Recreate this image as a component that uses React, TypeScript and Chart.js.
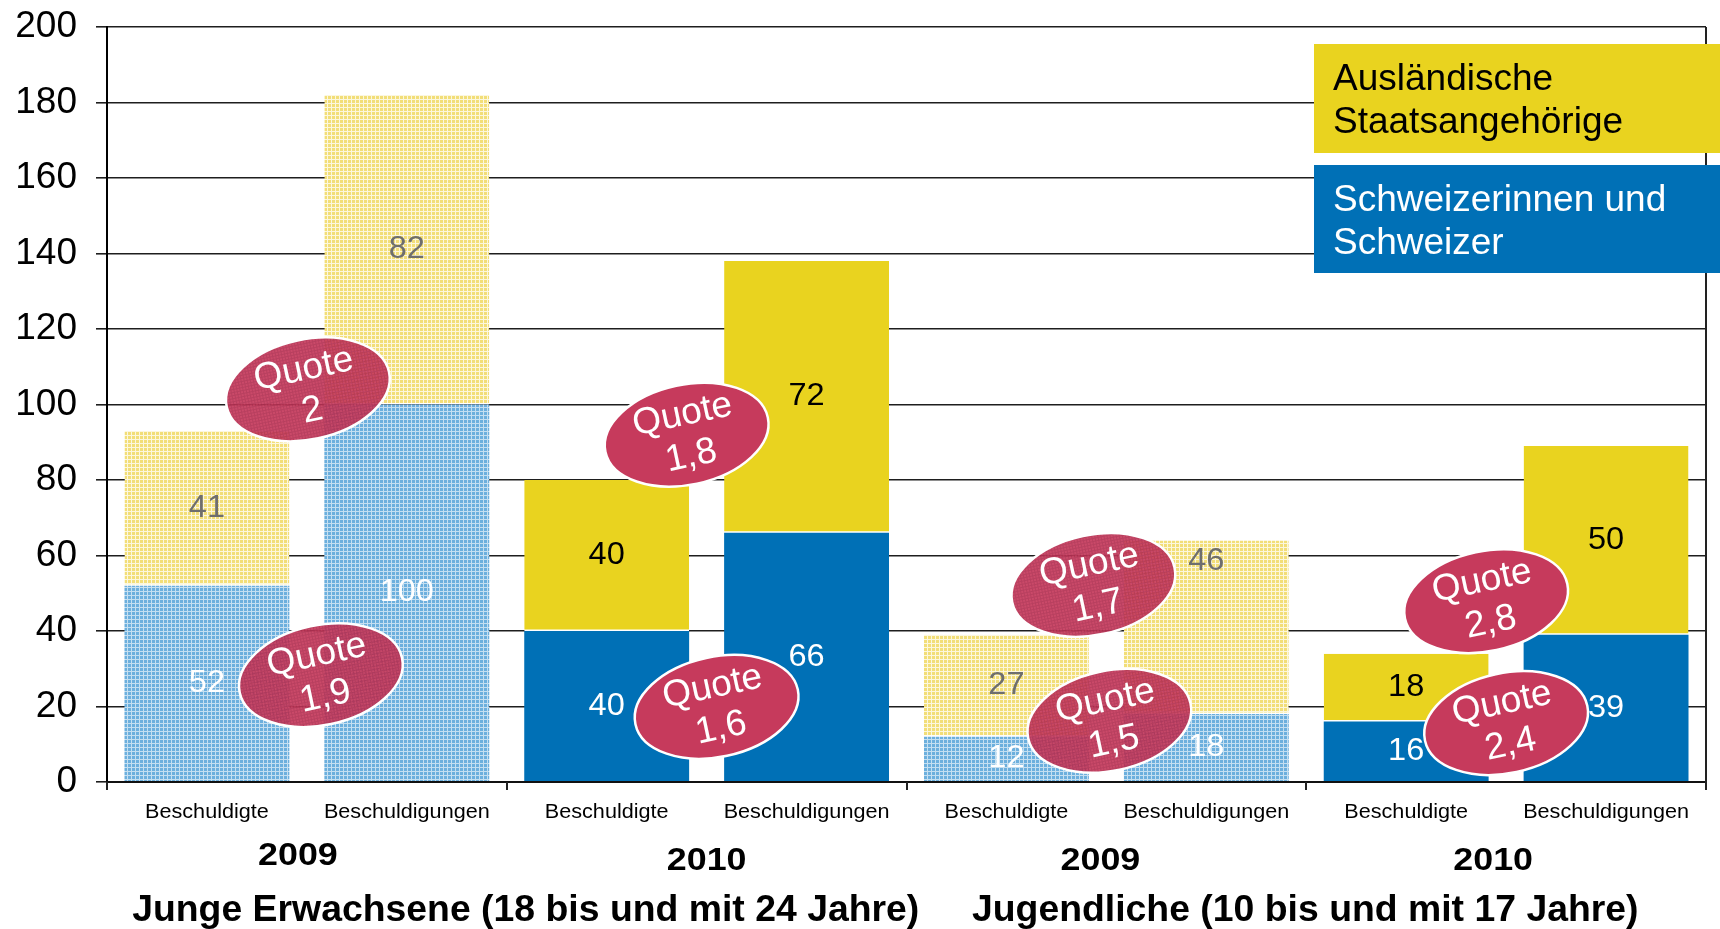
import React, { useEffect, useRef } from "react";
import { Chart, registerables } from "chart.js";

Chart.register(...registerables);

// ---------- data ----------
const categories = [
  "Beschuldigte", "Beschuldigungen",
  "Beschuldigte", "Beschuldigungen",
  "Beschuldigte", "Beschuldigungen",
  "Beschuldigte", "Beschuldigungen",
];
const years = ["2009", "2010", "2009", "2010"];
const ageGroups = [
  "Junge Erwachsene (18 bis und mit 24 Jahre)",
  "Jugendliche (10 bis und mit 17 Jahre)",
];
const swissValues = [52, 100, 40, 66, 12, 18, 16, 39];
const foreignValues = [41, 82, 40, 72, 27, 46, 18, 50];
const hatchedBars = [true, true, false, false, true, true, false, false];
const quoteValues = ["2", "1,9", "1,8", "1,6", "1,7", "1,5", "2,8", "2,4"];
const legendLines = [
  ["Ausländische", "Staatsangehörige"],
  ["Schweizerinnen und", "Schweizer"],
];
const yMin = 0;
const yMax = 200;
const yStep = 20;

// ---------- annotation anchors (data coordinates: category index, value) ----------
const quoteAnchorX = [0.505, 0.57, 2.4, 2.55, 4.435, 4.515, 6.4, 6.5];
const quoteAnchorY = [104, 28.3, 92, 19.9, 52.2, 16.2, 47.9, 15.6];
const quoteHatched = [true, true, false, false, true, true, false, false];
const yearAnchorX = [0.455, 2.5, 4.47, 6.435];
const ageGroupAnchorX = [1.595, 5.495];
const labelValueOverride: Record<string, number> = { "1-5": 58.3 };

const FONT = "'Liberation Sans', Arial, Helvetica, sans-serif";

const COLORS = {
  yellow: "#E9D31F",
  blue: "#0070B6",
  yellowHatchBase: "#F2DE78",
  blueHatchBase: "#6CAFDD",
  quote: "#C63A5C",
  quoteHatchLine: "#A32649",
  grid: "#1e1e1e",
};

function makeGridPattern(
  ctx: CanvasRenderingContext2D,
  base: string,
  line: string,
  lineAlpha: number,
  size = 4
) {
  const c = document.createElement("canvas");
  c.width = size;
  c.height = size;
  const g = c.getContext("2d")!;
  g.fillStyle = base;
  g.fillRect(0, 0, size, size);
  g.globalAlpha = lineAlpha;
  g.fillStyle = line;
  g.fillRect(0, size - 1, size, 1);
  g.fillRect(size - 1, 0, 1, size - 1);
  return ctx.createPattern(c, "repeat")!;
}

function drawScaledText(
  ctx: CanvasRenderingContext2D,
  text: string,
  x: number,
  y: number,
  font: string,
  color: string,
  sx = 1,
  baseline: CanvasTextBaseline = "alphabetic",
  align: CanvasTextAlign = "center"
) {
  ctx.save();
  ctx.translate(x, y);
  ctx.scale(sx, 1);
  ctx.font = font;
  ctx.fillStyle = color;
  ctx.textAlign = align;
  ctx.textBaseline = baseline;
  ctx.fillText(text, 0, 0);
  ctx.restore();
}

export default function App() {
  const canvasRef = useRef<HTMLCanvasElement | null>(null);

  useEffect(() => {
    document.body.style.margin = "0";
    const canvas = canvasRef.current!;
    const ctx = canvas.getContext("2d")!;

    const yellowHatch = makeGridPattern(ctx, COLORS.yellowHatchBase, "#ffffff", 0.75);
    const blueHatch = makeGridPattern(ctx, COLORS.blueHatchBase, "#ffffff", 0.6);
    const quoteHatch = makeGridPattern(ctx, COLORS.quote, COLORS.quoteHatchLine, 0.55, 3);

    const overlayPlugin = {
      id: "overlay",
      afterDraw(chart: any) {
        const c: CanvasRenderingContext2D = chart.ctx;
        const area = chart.chartArea;
        const xs = chart.scales.x;
        const ys = chart.scales.y;

        // y tick labels
        for (let v = yMin; v <= yMax; v += yStep) {
          drawScaledText(c, String(v), area.left - 30, ys.getPixelForValue(v), `37px ${FONT}`, "#000", 1, "middle", "right");
        }

        // right border
        c.save();
        c.strokeStyle = "#222";
        c.lineWidth = 2;
        c.beginPath();
        c.moveTo(area.right, area.top);
        c.lineTo(area.right, area.bottom + 8);
        c.stroke();
        // group boundary tick marks
        for (let g = 0; g <= categories.length; g += 2) {
          const px = g === categories.length ? area.right : Math.round(xs.getPixelForValue(g - 0.5));
          c.beginPath();
          c.moveTo(px, area.bottom);
          c.lineTo(px, area.bottom + 8);
          c.stroke();
        }
        c.restore();

        // category labels
        categories.forEach((lab, i) => {
          drawScaledText(c, lab, xs.getPixelForValue(i), area.bottom + 36, `20px ${FONT}`, "#000", 1.08);
        });
        // year labels
        years.forEach((yr, i) => {
          drawScaledText(c, yr, xs.getPixelForValue(yearAnchorX[i]), i === 0 ? area.bottom + 83 : area.bottom + 88, `bold 32px ${FONT}`, "#000", 1.12);
        });
        // age group labels
        ageGroups.forEach((t, i) => {
          drawScaledText(c, t, xs.getPixelForValue(ageGroupAnchorX[i]), area.bottom + 139, `bold 37px ${FONT}`, "#000", 1.01);
        });

        // data labels
        const sets = [swissValues, foreignValues];
        sets.forEach((vals, di) => {
          const meta = chart.getDatasetMeta(di);
          meta.data.forEach((el: any, i: number) => {
            const key = `${di}-${i}`;
            let cy = (el.y + el.base) / 2;
            if (labelValueOverride[key] !== undefined) cy = ys.getPixelForValue(labelValueOverride[key]);
            let color = "#fff";
            if (di === 1) color = hatchedBars[i] ? "#6e6e6e" : "#000";
            drawScaledText(c, String(vals[i]), el.x, cy, `31px ${FONT}`, color, 1.05, "middle");
          });
        });

        // quote ellipses
        quoteValues.forEach((q, i) => {
          const cx = xs.getPixelForValue(quoteAnchorX[i]);
          const cy = ys.getPixelForValue(quoteAnchorY[i]);
          c.save();
          c.translate(cx, cy);
          c.rotate(-0.21);
          c.beginPath();
          c.ellipse(0, 0, 83, 50, 0, 0, Math.PI * 2);
          if (quoteHatched[i]) {
            c.globalAlpha = 0.92;
            c.fillStyle = quoteHatch;
          } else {
            c.fillStyle = COLORS.quote;
          }
          c.fill();
          c.globalAlpha = 1;
          c.strokeStyle = "#ffffff";
          c.lineWidth = 2.5;
          c.stroke();
          c.fillStyle = "#fff";
          c.font = `37px ${FONT}`;
          c.textAlign = "center";
          c.textBaseline = "middle";
          c.fillText("Quote", 0, -20);
          c.fillText(q, 0, 22);
          c.restore();
        });

        // legend
        const boxes = [
          { y: 44, h: 109, bg: COLORS.yellow, fg: "#000" },
          { y: 165, h: 108, bg: COLORS.blue, fg: "#fff" },
        ];
        boxes.forEach((b, i) => {
          c.save();
          c.fillStyle = b.bg;
          c.fillRect(1314, b.y, chart.width - 1314, b.h);
          c.restore();
          legendLines[i].forEach((line, li) => {
            drawScaledText(c, line, 1333, b.y + 46 + li * 43, `37px ${FONT}`, b.fg, 1, "alphabetic", "left");
          });
        });
      },
    };

    const chart = new Chart(ctx, {
      type: "bar",
      data: {
        labels: categories,
        datasets: [
          {
            label: "Schweizerinnen und Schweizer",
            data: swissValues,
            backgroundColor: hatchedBars.map((h) => (h ? blueHatch : COLORS.blue)),
            borderWidth: 0,
            barPercentage: 0.825,
            categoryPercentage: 1,
          },
          {
            label: "Ausländische Staatsangehörige",
            data: foreignValues,
            backgroundColor: hatchedBars.map((h) => (h ? yellowHatch : COLORS.yellow)),
            borderColor: "#ffffff",
            borderWidth: { top: 0, left: 0, right: 0, bottom: 1.5 },
            borderSkipped: false,
            barPercentage: 0.825,
            categoryPercentage: 1,
          },
        ],
      },
      options: {
        responsive: false,
        animation: false,
        devicePixelRatio: 1,
        layout: { padding: { top: 27, right: 14, left: 0, bottom: 0 } },
        plugins: { legend: { display: false }, tooltip: { enabled: false } },
        scales: {
          x: {
            stacked: true,
            grid: { display: false },
            border: { display: true, color: "#111", width: 2, z: 1 },
            ticks: { display: false },
            afterFit: (s: any) => {
              s.height = 147;
            },
          },
          y: {
            stacked: true,
            min: yMin,
            max: yMax,
            ticks: { stepSize: yStep, display: false },
            grid: { color: COLORS.grid, lineWidth: 1.6, tickLength: 11, drawTicks: true },
            border: { display: true, color: "#000", width: 2 },
            afterFit: (s: any) => {
              s.width = 107;
            },
          },
        },
      },
      plugins: [overlayPlugin],
    } as any);

    return () => chart.destroy();
  }, []);

  return (
    <div style={{ width: 1720, height: 929, position: "relative", background: "#fff" }}>
      <canvas ref={canvasRef} width={1720} height={929} style={{ display: "block" }} />
    </div>
  );
}
